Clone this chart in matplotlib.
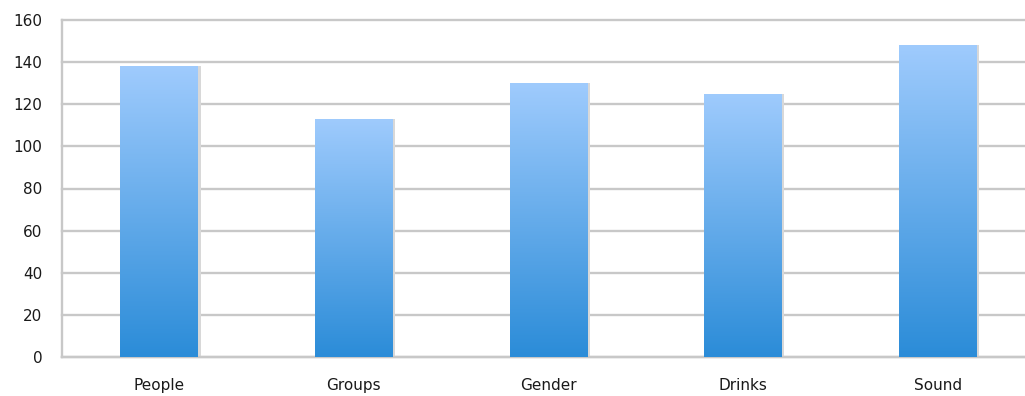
import numpy as np
import matplotlib
matplotlib.use("Agg")
import matplotlib.pyplot as plt
from matplotlib.colors import LinearSegmentedColormap

categories = ["People", "Groups", "Gender", "Drinks", "Sound"]
values = [138, 113, 130, 125, 148]
yticks = [0, 20, 40, 60, 80, 100, 120, 140, 160]

fig = plt.figure(figsize=(10.25, 3.96), dpi=100)
ax = fig.add_axes([62 / 1025, 39 / 396, 973 / 1025, 337 / 396])

x = np.arange(len(categories))
bars = ax.bar(x, values, width=0.4, color="none", edgecolor="none", zorder=3)

# vertical gradient fill for each bar, light at the top, darker at the base
cmap = LinearSegmentedColormap.from_list("bluegrad", ["#2b8cd8", "#9fcbfd"])
grad = np.linspace(0, 1, 256).reshape(-1, 1)
for b in bars:
    x0, w, h = b.get_x(), b.get_width(), b.get_height()
    im = ax.imshow(grad, cmap=cmap, aspect="auto", origin="lower",
                   extent=[x0, x0 + w, 0, h], zorder=3, interpolation="bicubic")
    im.set_clip_path(b)
    # faint drop shadow on the right side
    ax.add_patch(plt.Rectangle((x0 + w, 0), 0.012, h, color="#d8d8d8",
                               zorder=2, linewidth=0))

ax.set_xlim(-0.5, len(categories) - 0.5)
ax.set_ylim(0, 160)
ax.set_yticks(yticks)
ax.set_xticks(x)
ax.set_xticklabels(categories)

ax.grid(axis="y", color="#c8c8c8", linewidth=1.7, zorder=1)
for gl in ax.get_ygridlines():
    gl.set_clip_on(False)
ax.set_axisbelow(True)
for side in ["top", "right"]:
    ax.spines[side].set_visible(False)
ax.spines["left"].set_color("#c8c8c8")
ax.spines["left"].set_linewidth(1.7)
ax.spines["bottom"].set_color("#c8c8c8")
ax.spines["bottom"].set_linewidth(1.7)

ax.tick_params(axis="both", length=0, labelsize=11, labelcolor="#1a1a1a")
ax.tick_params(axis="y", pad=14)
ax.tick_params(axis="x", pad=15)

fig.savefig("out.png", dpi=100, facecolor="white")
